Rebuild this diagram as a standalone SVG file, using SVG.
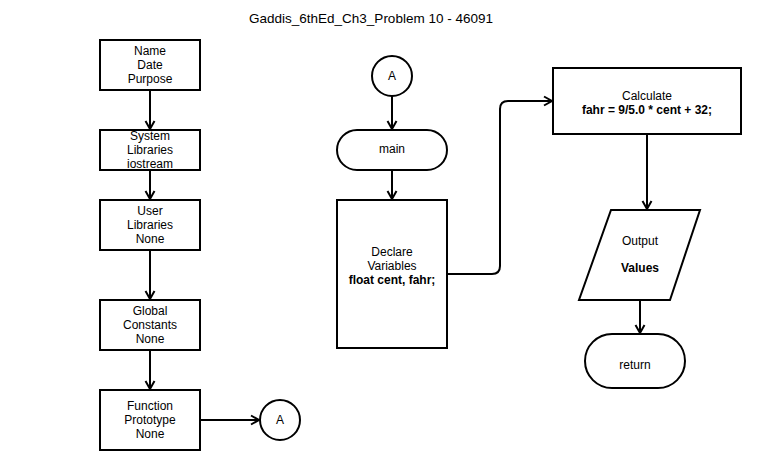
<svg xmlns="http://www.w3.org/2000/svg" width="760" height="468" viewBox="0 0 760 468">
<defs>
<marker id="arr" markerUnits="userSpaceOnUse" markerWidth="14" markerHeight="14" refX="10" refY="6" orient="auto">
<path d="M2,1.5 L10,6 L2,10.5" fill="none" stroke="#000" stroke-width="2"/>
</marker>
<style>
.box{fill:#fff;stroke:#000;stroke-width:2}
.t{font-family:"Liberation Sans",Arial,sans-serif;font-size:12px;fill:#000;text-anchor:middle}
.b{font-weight:bold}
.c{fill:none;stroke:#000;stroke-width:2;marker-end:url(#arr)}
</style>
</defs>
<rect width="760" height="468" fill="#fff"/>
<text x="371" y="23" class="t" style="font-size:13.5px">Gaddis_6thEd_Ch3_Problem 10 - 46091</text>
<g id="connectors">
<path class="c" d="M150,90 V129"/>
<path class="c" d="M150,170 V199"/>
<path class="c" d="M150,250 V299"/>
<path class="c" d="M150,350 V389"/>
<path class="c" d="M200,420 H259"/>
<path class="c" d="M392,96 V129"/>
<path class="c" d="M392,170 V199"/>
<path class="c" d="M447,274 H492 Q500,274 500,266 V109 Q500,101 508,101 H552"/>
<path class="c" d="M647,134 V209"/>
<path class="c" d="M640,300 V333"/>
</g>
<g id="n_header">
<rect class="box" x="100" y="40" width="100" height="50"/>
<text class="t" x="150" y="55">Name</text>
<text class="t" x="150" y="69">Date</text>
<text class="t" x="150" y="83">Purpose</text>
</g>
<g id="n_syslib">
<rect class="box" x="100" y="130" width="100" height="40"/>
<text class="t" x="150" y="140">System</text>
<text class="t" x="150" y="154">Libraries</text>
<text class="t" x="150" y="168">iostream</text>
</g>
<g id="n_userlib">
<rect class="box" x="100" y="200" width="100" height="50"/>
<text class="t" x="150" y="215">User</text>
<text class="t" x="150" y="229">Libraries</text>
<text class="t" x="150" y="243">None</text>
</g>
<g id="n_global">
<rect class="box" x="100" y="300" width="100" height="50"/>
<text class="t" x="150" y="315">Global</text>
<text class="t" x="150" y="329">Constants</text>
<text class="t" x="150" y="343">None</text>
</g>
<g id="n_proto">
<rect class="box" x="100" y="390" width="100" height="60"/>
<text class="t" x="150" y="410">Function</text>
<text class="t" x="150" y="424">Prototype</text>
<text class="t" x="150" y="438">None</text>
</g>
<g id="n_connA1">
<circle class="box" cx="280" cy="420" r="20"/>
<text class="t" x="280" y="424">A</text>
</g>
<g id="n_connA2">
<circle class="box" cx="392" cy="76" r="20"/>
<text class="t" x="392" y="80">A</text>
</g>
<g id="n_main">
<rect class="box" x="337" y="130" width="110" height="40" rx="20" ry="20"/>
<text class="t" x="392" y="153">main</text>
</g>
<g id="n_declare">
<rect class="box" x="337" y="200" width="110" height="148"/>
<text class="t" x="392" y="256">Declare</text>
<text class="t" x="392" y="270">Variables</text>
<text class="t b" x="392" y="284">float cent, fahr;</text>
</g>
<g id="n_calc">
<rect class="box" x="553" y="68" width="188" height="66"/>
<text class="t" x="647" y="100">Calculate</text>
<text class="t b" x="647" y="114">fahr = 9/5.0 * cent + 32;</text>
</g>
<g id="n_output">
<polygon class="box" points="611,210 700,210 670,300 579,300"/>
<text class="t" x="640" y="245">Output</text>
<text class="t b" x="640" y="272">Values</text>
</g>
<g id="n_return">
<rect class="box" x="585" y="334" width="100" height="54" rx="27" ry="27"/>
<text class="t" x="635" y="369">return</text>
</g>
</svg>
